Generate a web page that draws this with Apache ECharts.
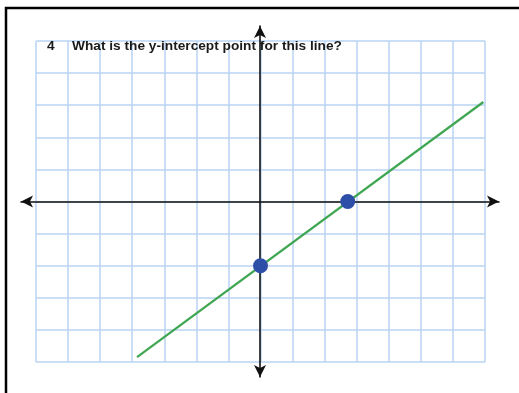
<!DOCTYPE html>
<html>
<head>
<meta charset="utf-8">
<style>
  html, body { margin: 0; padding: 0; background: #fff; }
  #chart { width: 519px; height: 393px; }
</style>
<script src="https://cdn.jsdelivr.net/npm/echarts@6/dist/echarts.min.js"></script>
</head>
<body>
<div id="chart"></div>
<script>
// question text
var questionNo = '4';
var questionText = 'What is the y-intercept point for this line?';

// graph paper range (one square = one unit)
var xRange = [-7, 7];
var yRange = [-5, 5];

// the drawn line (end points)
var lineX = [-3.85, 6.95];
var lineY = [-4.85, 3.1];

// marked points: y-intercept and x-intercept
var pointX = [0, 2.72];
var pointY = [-2, 0];

var lineData = lineX.map(function(x, i) { return [x, lineY[i]]; });
var pointData = pointX.map(function(x, i) { return [x, pointY[i]]; });

var gridColor = '#b9d5f2';
var axisColor = '#111';

var chart = echarts.init(document.getElementById('chart'), null, { renderer: 'canvas' });

var hidden = { show: false };
var textStyle = { fontFamily: 'Liberation Sans', fontWeight: 'bold', fontSize: 13.7, color: '#1a1a1a' };

var option = {
  backgroundColor: '#fff',
  animation: false,
  title: [{
    text: questionNo,
    left: 47, top: 39, padding: 0,
    textStyle: textStyle
  }, {
    text: questionText,
    left: 72, top: 39, padding: 0,
    textStyle: textStyle
  }],
  grid: [
    // graph paper
    { left: 36, right: 34, top: 41, bottom: 31 },
    // axes with arrows (a bit longer than the paper)
    { left: 21, right: 20, top: 26, bottom: 16 }
  ],
  xAxis: [{
    gridIndex: 0, type: 'value', min: xRange[0], max: xRange[1], interval: 1,
    axisLine: hidden, axisTick: hidden, axisLabel: hidden,
    splitLine: { show: true, lineStyle: { color: gridColor, width: 1.5 } }
  }, {
    gridIndex: 1, type: 'value', min: -1, max: 1,
    axisLine: { show: true, onZero: true, symbol: ['arrow', 'arrow'], symbolSize: [9, 12],
      lineStyle: { color: axisColor, width: 1.6 } },
    axisTick: hidden, axisLabel: hidden, splitLine: hidden
  }],
  yAxis: [{
    gridIndex: 0, type: 'value', min: yRange[0], max: yRange[1], interval: 1,
    axisLine: hidden, axisTick: hidden, axisLabel: hidden,
    splitLine: { show: true, lineStyle: { color: gridColor, width: 1.5 } }
  }, {
    gridIndex: 1, type: 'value', min: -1, max: 1,
    axisLine: { show: true, onZero: true, symbol: ['arrow', 'arrow'], symbolSize: [9, 12],
      lineStyle: { color: axisColor, width: 1.6 } },
    axisTick: hidden, axisLabel: hidden, splitLine: hidden
  }],
  graphic: [{
    // page frame, top and left edges
    type: 'polyline',
    shape: { points: [[6, 393], [6, 8], [519, 8]] },
    style: { stroke: '#000', lineWidth: 2.5, fill: null },
    z: 10
  }],
  series: [{
    type: 'line',
    xAxisIndex: 0, yAxisIndex: 0,
    data: lineData,
    symbol: 'none',
    lineStyle: { color: '#3fa652', width: 2.2 },
    z: 5
  }, {
    type: 'scatter',
    xAxisIndex: 0, yAxisIndex: 0,
    data: pointData,
    symbolSize: 15,
    itemStyle: { color: '#2d4fa8', opacity: 1 },
    z: 6
  }]
};

chart.setOption(option);
</script>
</body>
</html>
